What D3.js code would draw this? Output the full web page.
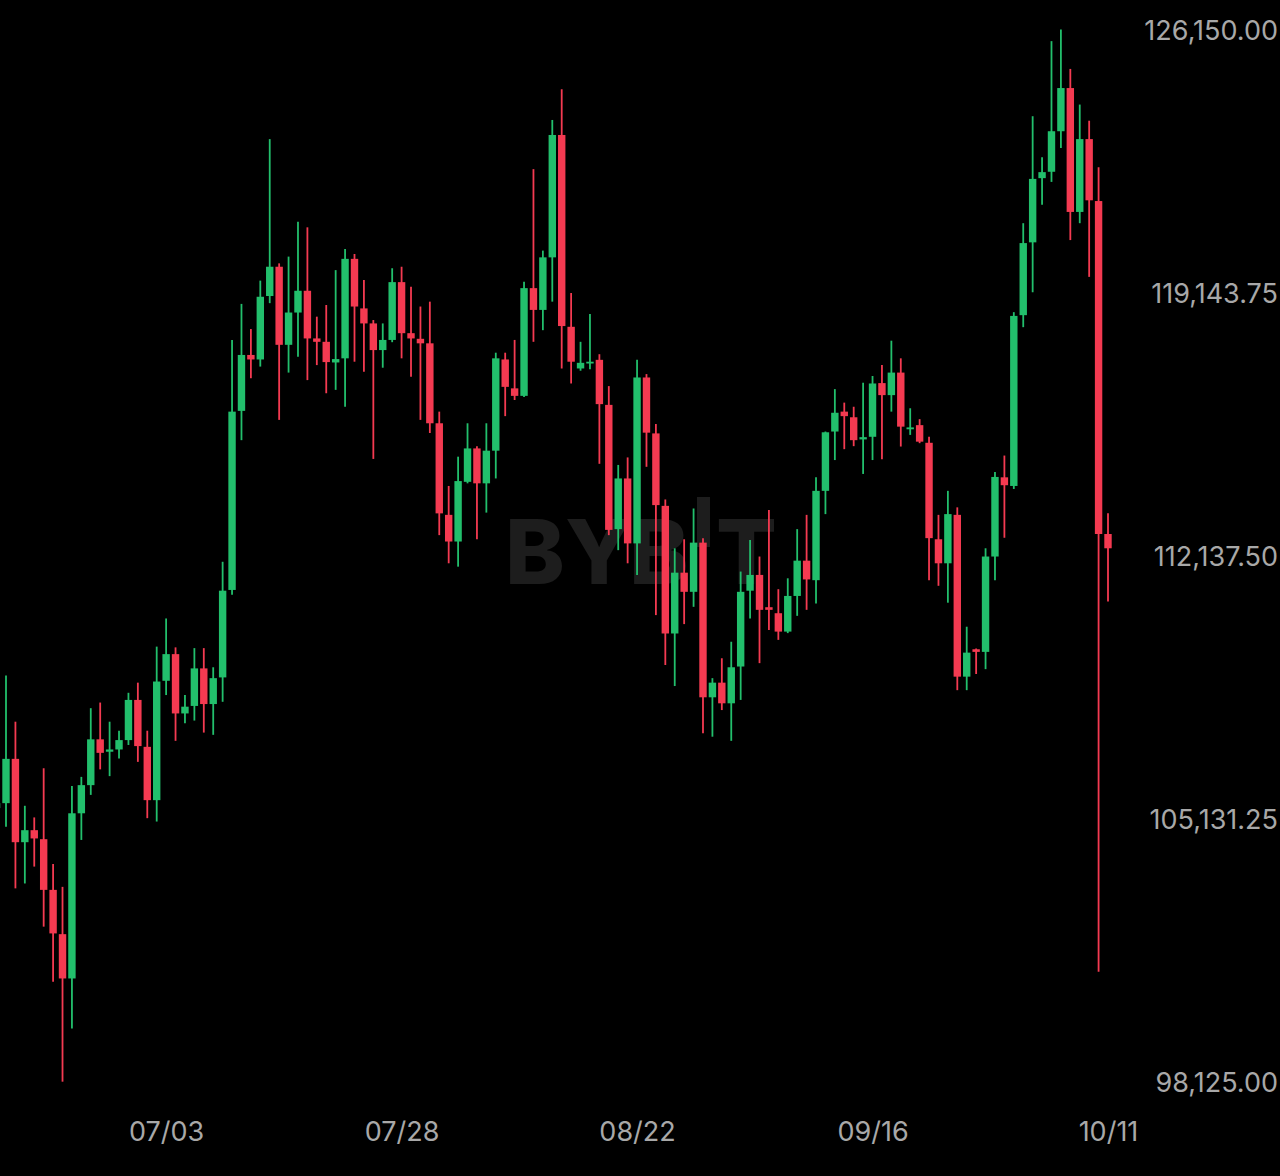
<!DOCTYPE html>
<html>
<head>
<meta charset="utf-8">
<script src="https://cdn.jsdelivr.net/npm/d3@7"></script>
<style>
  html, body { margin:0; padding:0; background:#000; }
  svg { display:block; }
</style>
</head>
<body>
<script>
// daily candles, first one is 2025-06-15 (partly off screen)
var firstDay = "2025-06-15";
var open  = [105450,105580,106760,104540,104860,104620,103270,102090,100910,105310,106060,107280,106950,107010,107260,108330,107080,105660,108840,109550,107970,108170,109170,108220,108930,111260,116030,117520,117400,119090,119870,117790,118650,119230,117960,117870,117320,117430,120080,118760,118360,117650,117920,119460,118100,117950,117830,115700,113260,112550,114140,115030,114100,114970,117400,116630,116430,119300,118720,120120,123380,118270,117160,117300,117390,116190,112880,114230,112500,116920,115430,113500,110100,111720,111210,112520,108400,108790,108240,109220,111240,111660,110800,110640,110150,111100,112040,111520,113900,115480,116010,115860,115270,115340,116770,116450,117050,115540,115650,115180,112610,111970,113260,108950,109680,109610,112150,114260,114030,118580,120520,122230,122400,123480,124630,121330,123270,121620,112750];
var close = [105580,106760,104540,104860,104640,103270,102110,100910,105310,106060,107280,106920,107010,107260,108330,107100,105660,108820,109550,107970,108150,109170,108220,108910,111240,116010,117520,117400,119070,119870,117790,118650,119230,117960,117870,117330,117410,120080,118810,118360,117650,117920,119460,118100,117960,117830,115700,113300,112550,114160,115030,114100,114970,117430,116670,116430,119300,118720,120120,123380,118290,117340,117310,117340,116210,112860,114230,112500,116920,115450,113520,110100,111720,111210,112520,108400,108790,108240,109200,111210,111660,110730,110730,110150,111100,112040,111540,113900,115460,115980,115890,115250,115330,116760,116450,117050,115610,115590,115210,112640,111970,113280,108950,109590,109610,112150,114270,114050,118560,120500,122210,122390,123480,124630,121330,123270,121640,112750,112370];
var high  = [105800,108980,107750,105510,105200,106510,103960,103350,106040,106280,108110,108260,107750,107510,108520,108790,107510,109750,110500,109730,108460,109710,109710,109200,112010,117920,118880,118210,119500,123270,119960,120140,121070,120920,118540,118850,119780,120340,120210,119520,118450,118360,119830,119870,119340,118810,118940,116010,114030,114810,115700,115090,115700,117580,117580,117920,119470,122470,120300,123780,124600,119170,117870,118610,117540,116690,114590,114790,117390,117010,115680,113670,112370,112610,113430,112640,108910,109440,109880,111750,112590,112150,113390,111280,111570,112880,113260,114260,115480,116610,116250,116140,116780,116960,117250,117900,117430,116100,115810,115340,113260,113900,113460,110280,109700,112370,114400,114840,118660,121030,123880,122790,125880,126190,125140,124190,123760,122520,113300];
var low   = [105340,104950,103310,103440,103890,102290,100820,98160,99580,104600,105800,106480,106300,106770,107130,106680,105180,105090,108460,107240,107710,107780,107460,107400,108280,111130,115250,116900,117210,118900,115790,117050,117470,116850,117250,116500,116590,116140,117340,117070,114750,117180,117860,117430,116940,115790,115440,112720,111970,111880,114100,112610,113320,114230,115890,116320,116400,117870,118180,118940,117160,116760,117100,117140,114620,112720,112320,111970,111660,114540,110590,109260,108700,110350,110810,107440,107350,108060,107240,108330,110500,109310,110190,109930,110110,110570,110730,110900,113280,114720,115010,115090,114350,114720,114740,116010,115080,115390,115170,111520,111370,110920,108590,108590,109020,109150,111520,112650,113950,118260,119190,121520,122130,123030,120580,121030,119600,101090,110950];

var yTicks = [98125, 105131.25, 112137.5, 119143.75, 126150];
var xTicks = ["2025-07-03", "2025-07-28", "2025-08-22", "2025-09-16", "2025-10-11"];

var svgWidth = 1280, svgHeight = 1176;
var green = "#22bf6c", red = "#f43a51";
var labelFont = "Inter, 'Liberation Sans', sans-serif";

var start = new Date(firstDay + "T00:00:00Z");
var data = open.map(function(o, i){
  return {date: d3.utcDay.offset(start, i), open: o, close: close[i], high: high[i], low: low[i]};
});

var svg = d3.select("body")
    .append("svg")
    .attr("width", svgWidth)
    .attr("height", svgHeight)
    .style("background", "#000");

var x = d3.scaleUtc()
    .domain([new Date("2025-06-16T00:00:00Z"), new Date("2025-10-11T00:00:00Z")])
    .range([6, 1108]);

var y = d3.scaleLinear()
    .domain([98125, 126150])
    .range([1083, 31]);

// watermark: one text, letters placed one by one; the I of the logo is a raised bar
var wm = svg.append("g").attr("fill", "#1d1d1d");
var wmText = wm.append("text")
    .attr("y", 584)
    .attr("font-family", "Inter, 'DejaVu Sans', sans-serif")
    .attr("font-weight", 800)
    .attr("font-size", "90px");
wmText.append("tspan").attr("x", 505).text("B");
wmText.append("tspan").attr("x", 565).text("Y");
wmText.append("tspan").attr("x", 629).text("B");
wmText.append("tspan").attr("x", 716).text("T");
wm.append("rect").attr("x", 697).attr("y", 497).attr("width", 13).attr("height", 50);

var bodyW = 7.4;

var candle = svg.append("g")
  .selectAll(".candle")
  .data(data)
  .enter()
  .append("g")
  .attr("class", "candle")
  .attr("fill", function(d){ return d.close >= d.open ? green : red; })
  .attr("stroke", function(d){ return d.close >= d.open ? green : red; });

candle.append("line")
  .attr("x1", function(d){ return x(d.date); })
  .attr("x2", function(d){ return x(d.date); })
  .attr("y1", function(d){ return y(d.high); })
  .attr("y2", function(d){ return y(d.low); })
  .attr("stroke-width", 1.8);

candle.append("rect")
  .attr("stroke", "none")
  .attr("x", function(d){ return x(d.date) - bodyW/2; })
  .attr("width", bodyW)
  .attr("y", function(d){ return y(Math.max(d.open, d.close)); })
  .attr("height", function(d){
    return Math.max(1.8, Math.abs(y(d.open) - y(d.close)));
  });

// price axis on the right
var yAxis = svg.append("g")
  .attr("transform", "translate(1278,0)")
  .call(d3.axisLeft(y).tickValues(yTicks).tickSize(0).tickPadding(0).tickFormat(d3.format(",.2f")));
yAxis.select(".domain").remove();
yAxis.selectAll("text")
  .attr("fill", "#a8a8a8")
  .attr("font-family", labelFont)
  .attr("font-size", "27px");

// date axis
var xAxis = svg.append("g")
  .attr("transform", "translate(0,1132)")
  .call(d3.axisBottom(x)
    .tickValues(xTicks.map(function(s){ return new Date(s + "T00:00:00Z"); }))
    .tickSize(0).tickPadding(0)
    .tickFormat(d3.utcFormat("%m/%d")));
xAxis.select(".domain").remove();
xAxis.selectAll("text")
  .attr("dy", "0.35em")
  .attr("fill", "#a8a8a8")
  .attr("font-family", labelFont)
  .attr("font-size", "27px");
</script>
</body>
</html>
